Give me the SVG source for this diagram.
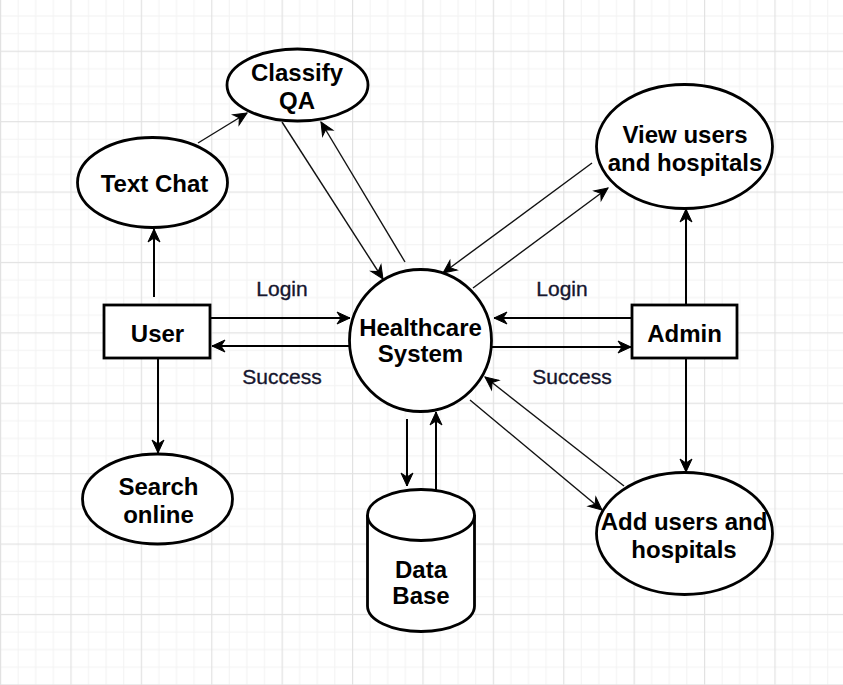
<svg xmlns="http://www.w3.org/2000/svg" width="843" height="685" viewBox="0 0 843 685">
<style>
.node{fill:#fff;stroke:#000;stroke-width:2.8}
.t{font-family:"Liberation Sans",Arial,sans-serif;font-weight:bold;font-size:24px;fill:#000;text-anchor:middle}
.lbl{font-family:"Liberation Sans",Arial,sans-serif;font-size:21px;fill:#16162e;stroke:#16162e;stroke-width:0.35;text-anchor:middle}
.c{fill:none;stroke:#000;stroke-width:2;marker-end:url(#ah)}
.d{fill:none;stroke:#111;stroke-width:1.4;marker-end:url(#ah)}
</style>
<defs>
<pattern id="grid" patternUnits="userSpaceOnUse" x="0" y="-19.7" width="70.4" height="70.4">
<rect x="17.6" y="0" width="1" height="70.4" fill="#f2f2f2"/>
<rect x="35.2" y="0" width="1" height="70.4" fill="#f2f2f2"/>
<rect x="52.8" y="0" width="1" height="70.4" fill="#f2f2f2"/>
<rect x="0" y="17.6" width="70.4" height="1" fill="#f2f2f2"/>
<rect x="0" y="35.2" width="70.4" height="1" fill="#f2f2f2"/>
<rect x="0" y="52.8" width="70.4" height="1" fill="#f2f2f2"/>
<rect x="0" y="0" width="1.2" height="70.4" fill="#e2e2e2"/>
<rect x="0" y="0" width="70.4" height="1.2" fill="#e2e2e2"/>
</pattern>
<marker id="ah" markerUnits="userSpaceOnUse" orient="auto" markerWidth="16" markerHeight="14" viewBox="-14 -7 16 14" refX="0" refY="0" overflow="visible">
<path d="M0,0 L-13,-6 L-9,0 L-13,6 Z" fill="#000" stroke="#000" stroke-width="1"/>
</marker>
</defs>
<rect width="843" height="685" fill="#fff"/>
<rect width="843" height="685" fill="url(#grid)"/>

<g id="connectors">
<line class="c" x1="154" y1="297" x2="154" y2="229"/>
<line class="c" x1="158" y1="359" x2="158" y2="453"/>
<line class="d" x1="198" y1="143" x2="247" y2="113"/>
<line class="d" x1="282" y1="122" x2="383" y2="279"/>
<line class="d" x1="405" y1="262" x2="321" y2="122"/>
<line class="c" x1="211" y1="318" x2="350" y2="318"/>
<line class="c" x1="350" y1="346" x2="212" y2="346"/>
<line class="c" x1="631" y1="318" x2="494" y2="318"/>
<line class="c" x1="492" y1="347" x2="631" y2="347"/>
<line class="c" x1="407" y1="419" x2="407" y2="486"/>
<line class="c" x1="436" y1="490" x2="436" y2="412"/>
<line class="d" x1="592" y1="163" x2="443" y2="273"/>
<line class="d" x1="473" y1="288" x2="608" y2="188"/>
<line class="d" x1="470" y1="400" x2="602" y2="510"/>
<line class="d" x1="624" y1="486" x2="485" y2="377"/>
<line class="c" x1="686" y1="304" x2="686" y2="209"/>
<line class="c" x1="686" y1="359" x2="686" y2="472"/>
<text class="lbl" x="282" y="296">Login</text>
<text class="lbl" x="282" y="384">Success</text>
<text class="lbl" x="562" y="296">Login</text>
<text class="lbl" x="572" y="384">Success</text>
</g>

<g id="classify">
<ellipse class="node" cx="297.5" cy="85" rx="70.5" ry="36"/>
<text class="t" x="297" y="81">Classify</text>
<text class="t" x="297" y="109">QA</text>
</g>
<g id="textchat">
<ellipse class="node" cx="152.5" cy="182.5" rx="75" ry="45"/>
<text class="t" x="154.5" y="192">Text Chat</text>
</g>
<g id="user">
<rect class="node" x="104" y="305" width="106" height="53"/>
<text class="t" x="157.5" y="342">User</text>
</g>
<g id="search">
<ellipse class="node" cx="157.5" cy="499" rx="75" ry="45"/>
<text class="t" x="158.5" y="495">Search</text>
<text class="t" x="158.5" y="523">online</text>
</g>
<g id="healthcare">
<circle class="node" cx="420.5" cy="340.5" r="71"/>
<text class="t" x="420.5" y="336">Healthcare</text>
<text class="t" x="420.5" y="362">System</text>
</g>
<g id="database">
<path class="node" d="M367.5,515 A53.5,25.5 0 0 1 474.5,515 L474.5,606 A53.5,25.5 0 0 1 367.5,606 Z"/>
<path fill="none" stroke="#000" stroke-width="2.8" d="M367.5,515 A53.5,25.5 0 0 0 474.5,515"/>
<text class="t" x="421" y="578">Data</text>
<text class="t" x="421" y="604">Base</text>
</g>
<g id="admin">
<rect class="node" x="632" y="305" width="105" height="53"/>
<text class="t" x="684.5" y="342">Admin</text>
</g>
<g id="view">
<ellipse class="node" cx="684.5" cy="146.5" rx="88" ry="62"/>
<text class="t" x="685" y="143">View users</text>
<text class="t" x="685" y="171">and hospitals</text>
</g>
<g id="add">
<ellipse class="node" cx="684.5" cy="533.5" rx="88" ry="61"/>
<text class="t" x="684" y="530">Add users and</text>
<text class="t" x="684" y="558">hospitals</text>
</g>
</svg>
